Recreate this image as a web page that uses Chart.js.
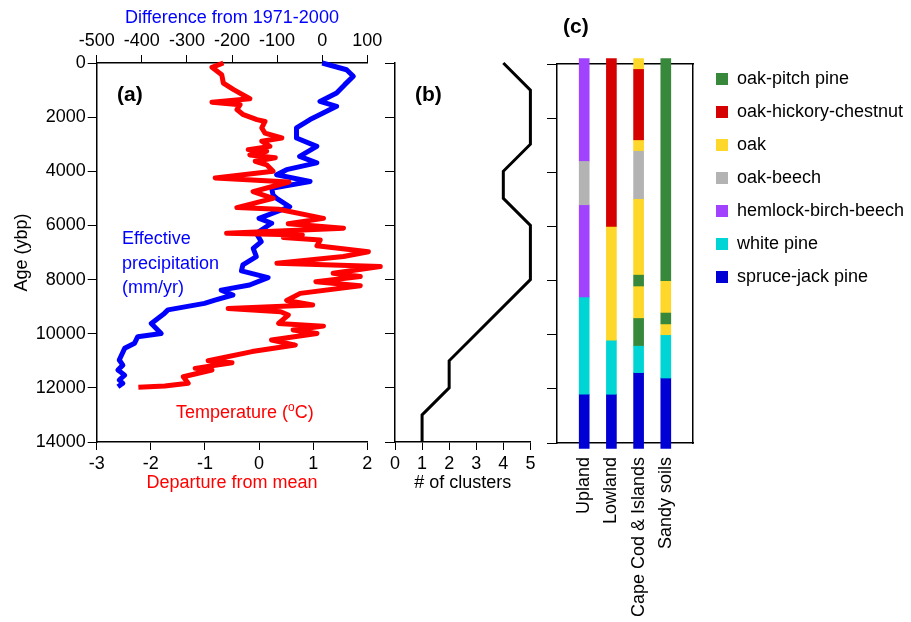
<!DOCTYPE html>
<html lang="en">
<head>
<meta charset="UTF-8">
<title>Climate and vegetation history</title>
<style>
  body { margin: 0; background: #fff; font-family: 'Liberation Sans', Arial, Helvetica, sans-serif; }
  #wrap { position: relative; width: 911px; height: 622px; overflow: hidden; }
  canvas { position: absolute; top: 0; }
  .note { position: absolute; font-size: 18px; line-height: 18px; white-space: nowrap; }
  .tag { position: absolute; font-size: 21px; line-height: 21px; font-weight: bold; }
</style>
</head>
<body>
<div id="wrap">
  <canvas id="chartA" width="390" height="622" style="left:0px"></canvas>
  <canvas id="chartB" width="165" height="622" style="left:375px"></canvas>
  <canvas id="chartC" width="371" height="622" style="left:540px"></canvas>

  <div class="tag" style="left:117px; top:83px">(a)</div>
  <div class="tag" style="left:415px; top:83px">(b)</div>
  <div class="tag" style="left:563px; top:15px">(c)</div>
  <div class="note" style="left:122px; top:226px; line-height:24.5px; color:#0000ff">Effective<br>precipitation<br>(mm/yr)</div>
  <div class="note" style="left:176px; top:403px; color:#ff0000">Temperature (<span style="font-size:12px; position:relative; top:-7px">o</span>C)</div>
</div>

<script src="https://cdn.jsdelivr.net/npm/chart.js"></script>
<script>
// (a) temperature departure from mean (deg C) against age (ybp)
const tempAge = [0, 160, 430, 740, 985, 1320, 1450, 1540, 1720, 1910, 2090, 2160, 2400, 2590, 2770, 2890,
  3080, 3200, 3260, 3400, 3500, 3630, 3760, 4000, 4250, 4400, 4570, 4750, 4880, 5000, 5340, 5400,
  5740, 5940, 6100, 6290, 6350, 6450, 6540, 6750, 6970, 7150, 7400, 7520, 7770, 7890, 8080, 8230,
  8510, 8770, 8940, 9070, 9190, 9310, 9620, 9720, 9860, 9990, 10230, 10420, 10660, 11000, 11070,
  11280, 11340, 11590, 11830, 11930, 11980];
const tempDep = [-0.66, -0.87, -0.69, -0.66, -0.47, -0.17, -0.87, -0.35, -0.41, -0.29, -0.04, 0.11, 0.05, 0.11, 0.42, 0.05,
  0.20, -0.20, 0.14, -0.17, 0.30, -0.07, 0.14, 0.26, -0.81, 0.55, 0.23, -0.11, 0.08, 0.26, -0.41, 0.36,
  1.19, 0.54, 1.56, -0.60, 0.80, 0.45, 1.13, 1.07, 2.02, 1.56, 0.33, 2.24, 1.37, 1.87, 1.05, 1.87,
  0.76, 0.51, 0.99, -0.57, 0.40, 0.54, 0.36, 1.19, 0.63, 1.07, 0.23, 0.67, -0.13, -0.94, -0.50,
  -1.18, -0.87, -1.40, -1.31, -1.74, -2.23];

// (a) effective precipitation, difference from 1971-2000 (mm/yr)
const precipAge = [0, 250, 490, 800, 1110, 1420, 1600, 1850, 2090, 2400, 2770, 3080, 3450, 3690, 3940, 4130,
  4380, 4630, 4880, 5000, 5310, 5740, 5920, 6290, 6600, 6850, 7150, 7460, 7680, 7930, 8200, 8390,
  8570, 8760, 8880, 9120, 9250, 9620, 9990, 10110, 10350, 10540, 10970, 11160, 11340, 11530, 11710,
  11830, 11960];
const precipDiff = [0, 54, 69, 50, 32, -5, 32, 2, -27, -57, -57, -12, -50, -12, -79, -101,
  -27, -112, -109, -101, -72, -140, -112, -146, -135, -153, -146, -176, -179, -120, -161, -224,
  -198, -238, -261, -342, -350, -379, -357, -409, -416, -438, -450, -442, -453, -438, -450,
  -442, -453];

// (b) number of clusters
const clusterAge = [0, 1000, 3000, 4000, 5000, 6000, 8000, 11000, 12000, 13000, 14000];
const clusterCount = [4, 5, 5, 4, 4, 5, 5, 2, 2, 1, 1];

// (c) vegetation zones per site: zone boundaries (ybp) and zone type, top to bottom
const sites = ['Upland', 'Lowland', 'Cape Cod & Islands', 'Sandy soils'];
const vegTypes = ['oak-pitch pine', 'oak-hickory-chestnut', 'oak', 'oak-beech', 'hemlock-birch-beech', 'white pine', 'spruce-jack pine'];
const vegColors = ['#37883a', '#d50000', '#fdd729', '#b3b3b3', '#a142ff', '#00d5d5', '#0000d4'];

const uplandBounds = [-200, 3600, 5200, 8600, 12200, 14200];
const uplandZones = ['hemlock-birch-beech', 'oak-beech', 'hemlock-birch-beech', 'white pine', 'spruce-jack pine'];
const lowlandBounds = [-200, 6000, 10200, 12200, 14200];
const lowlandZones = ['oak-hickory-chestnut', 'oak', 'white pine', 'spruce-jack pine'];
const capeBounds = [-200, 200, 2800, 3200, 5000, 7800, 8200, 9400, 10400, 11400, 14200];
const capeZones = ['oak', 'oak-hickory-chestnut', 'oak', 'oak-beech', 'oak', 'oak-pitch pine', 'oak', 'oak-pitch pine', 'white pine', 'spruce-jack pine'];
const sandyBounds = [-200, 8000, 9200, 9600, 10000, 11600, 14200];
const sandyZones = ['oak-pitch pine', 'oak', 'oak-pitch pine', 'oak', 'white pine', 'spruce-jack pine'];

Chart.defaults.font.family = "'Liberation Sans', Arial, Helvetica, sans-serif";
Chart.defaults.font.size = 18;
Chart.defaults.color = '#000';

const pairs = (ys, xs) => ys.map((y, i) => ({x: xs[i], y: y}));
const noText = v => v;

const axisLine = {color: '#000', width: 1.5};
const tickMarks = len => ({drawOnChartArea: false, drawTicks: true, tickLength: len, color: '#000'});
const ageAxis = (width, labels) => ({
    type: 'linear', position: 'left', reverse: true, min: 0, max: 14000,
    ticks: {stepSize: 2000, display: labels, padding: 2, callback: noText},
    grid: tickMarks(width > 30 ? 9 : 10),
    border: axisLine,
    afterFit: s => { s.width = width; },
});

// ---- panel (a)
new Chart(document.getElementById('chartA'), {
    type: 'scatter',
    data: {
        datasets: [
            {
                label: 'Temperature', data: pairs(tempAge, tempDep),
                xAxisID: 'x', yAxisID: 'y', showLine: true,
                borderColor: '#ff0000', borderWidth: 5, pointRadius: 0,
                borderJoinStyle: 'round', clip: false,
            },
            {
                label: 'Effective precipitation', data: pairs(precipAge, precipDiff),
                xAxisID: 'x2', yAxisID: 'y', showLine: true,
                borderColor: '#0000ff', borderWidth: 5, pointRadius: 0,
                borderJoinStyle: 'round', clip: false,
            },
        ]
    },
    options: {
        responsive: false,
        animation: false,
        layout: {padding: {left: 0, top: 0, right: 22.7, bottom: 120}},
        plugins: {legend: {display: false}, tooltip: {enabled: false}},
        scales: {
            x: {
                type: 'linear', position: 'bottom', min: -3, max: 2,
                ticks: {stepSize: 1, padding: 3, callback: noText},
                grid: tickMarks(8),
                border: axisLine,
                title: {display: true, text: 'Departure from mean', color: '#ff0000', padding: {top: 0, bottom: 8}},
                afterFit: s => { s.height = 60; },
            },
            x2: {
                type: 'linear', position: 'top', min: -500, max: 100,
                ticks: {stepSize: 100, padding: 3, callback: noText},
                grid: tickMarks(8),
                border: axisLine,
                title: {display: true, text: 'Difference from 1971-2000', color: '#0000ff', padding: {top: 7, bottom: 0}},
                afterFit: s => { s.height = 63; },
            },
            y: Object.assign(ageAxis(96.7, true), {
                title: {display: true, text: 'Age (ybp)', padding: {top: 11, bottom: 0}},
            }),
        }
    }
});

// ---- panel (b)
new Chart(document.getElementById('chartB'), {
    type: 'scatter',
    data: {
        datasets: [{
            label: '# of clusters', data: pairs(clusterAge, clusterCount),
            showLine: true, borderColor: '#000', borderWidth: 3, pointRadius: 0, clip: false,
        }]
    },
    options: {
        responsive: false,
        animation: false,
        layout: {padding: {left: 0, top: 63, right: 9.6, bottom: 120}},
        plugins: {legend: {display: false}, tooltip: {enabled: false}},
        scales: {
            x: {
                type: 'linear', position: 'bottom', min: 0, max: 5,
                ticks: {stepSize: 1, padding: 3},
                grid: tickMarks(8),
                border: axisLine,
                title: {display: true, text: '# of clusters', padding: {top: 0, bottom: 8}},
                afterFit: s => { s.height = 60; },
            },
            y: ageAxis(20, false),
        }
    }
});

// ---- panel (c)
const zoneSets = [
    [sites[0], uplandBounds, uplandZones],
    [sites[1], lowlandBounds, lowlandZones],
    [sites[2], capeBounds, capeZones],
    [sites[3], sandyBounds, sandyZones],
];
const vegSets = vegTypes.map((veg, k) => {
    const pts = [];
    zoneSets.forEach(([site, bounds, zones]) => {
        zones.forEach((z, i) => {
            if (z === veg) pts.push({x: site, y: [bounds[i], bounds[i + 1]]});
        });
    });
    return {
        label: veg, data: pts, xAxisID: 'x', yAxisID: 'y',
        backgroundColor: vegColors[k], borderWidth: 0,
        barThickness: 10, grouped: false, clip: false,
    };
});

new Chart(document.getElementById('chartC'), {
    type: 'bar',
    data: {
        labels: ['', ...sites, ''],
        datasets: vegSets,
    },
    options: {
        responsive: false,
        animation: false,
        layout: {padding: {left: 0, top: 55, right: 0, bottom: 0}},
        plugins: {
            tooltip: {enabled: false},
            legend: {
                position: 'right', align: 'start', maxWidth: 210,
                labels: {boxWidth: 12, boxHeight: 12, padding: 15, color: '#000', font: {size: 18}},
            },
        },
        scales: {
            x: {
                type: 'category', offset: false,
                ticks: {autoSkip: false, minRotation: 90, maxRotation: 90, padding: 6},
                grid: {display: false},
                border: axisLine,
                afterFit: s => { s.height = 179; },
            },
            x2: {
                type: 'linear', position: 'top',
                ticks: {display: false}, grid: {display: false}, border: axisLine,
                afterFit: s => { s.height = 9; },
            },
            y: ageAxis(17, false),
            y2: {
                type: 'linear', position: 'right',
                ticks: {display: false}, grid: {display: false}, border: axisLine,
                afterFit: s => { s.width = 8; },
            },
        }
    }
});
</script>
</body>
</html>
